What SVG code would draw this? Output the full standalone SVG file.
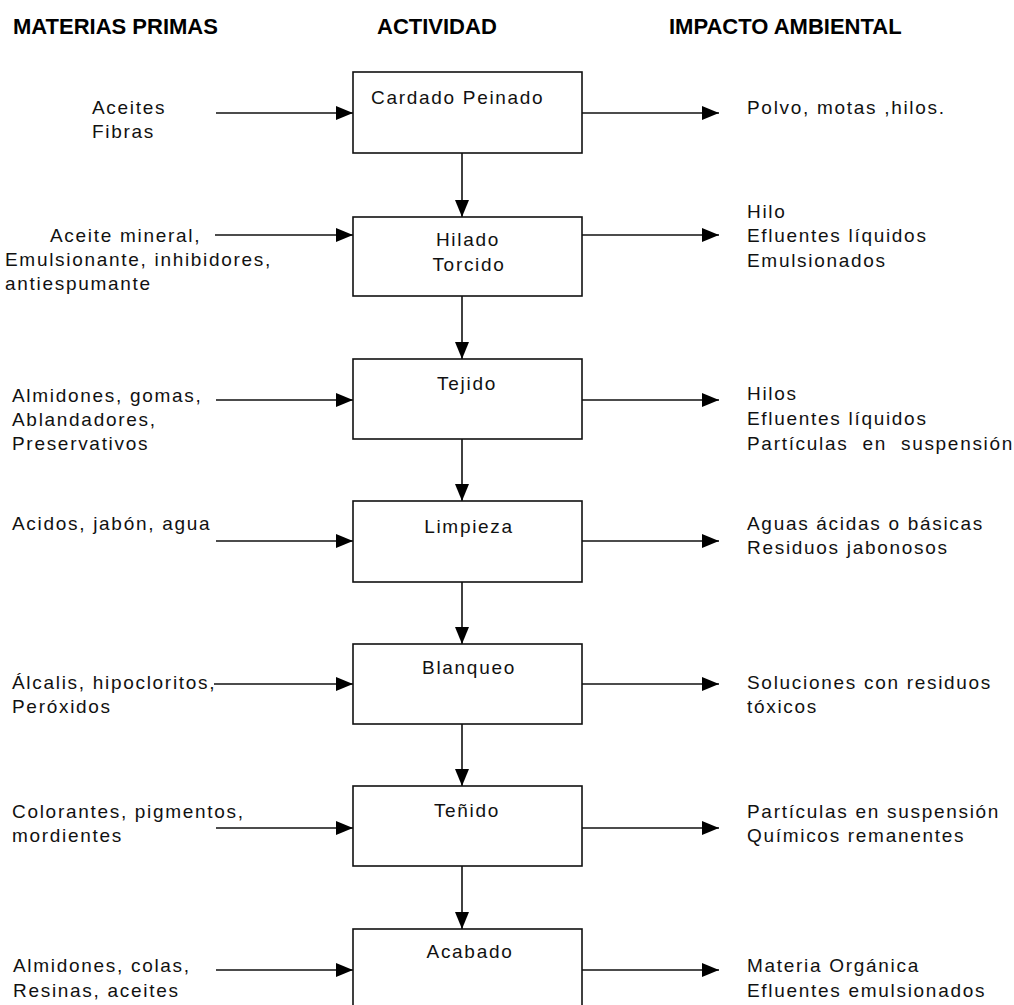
<svg xmlns="http://www.w3.org/2000/svg" width="1014" height="1005" viewBox="0 0 1014 1005">
<style>
.h{font-family:"Liberation Sans",Arial,sans-serif;font-size:22px;font-weight:bold;fill:#000}
.t{font-family:"Liberation Sans",Arial,sans-serif;font-size:19px;letter-spacing:1.7px;fill:#111}
.c{text-anchor:middle}
.box{fill:#fff;stroke:#111;stroke-width:1.6}
.ln{stroke:#111;stroke-width:1.6;fill:none;marker-end:url(#ah)}
</style>
<defs>
<marker id="ah" viewBox="0 0 17 14" refX="17" refY="7" markerWidth="17" markerHeight="14" markerUnits="userSpaceOnUse" orient="auto">
<path d="M0,0 L17,7 L0,14 Z" fill="#000"/>
</marker>
</defs>
<rect width="1014" height="1005" fill="#fff"/>
<g id="headers">
<text class="h" x="13" y="34">MATERIAS PRIMAS</text>
<text class="h" x="377" y="34">ACTIVIDAD</text>
<text class="h" x="669" y="34">IMPACTO AMBIENTAL</text>
</g>
<g id="connectors">
<line class="ln" x1="216" y1="113" x2="353" y2="113"/>
<line class="ln" x1="582" y1="113" x2="719" y2="113"/>
<line class="ln" x1="462" y1="153" x2="462" y2="217"/>
<line class="ln" x1="215" y1="235" x2="353" y2="235"/>
<line class="ln" x1="582" y1="235" x2="719" y2="235"/>
<line class="ln" x1="462" y1="296" x2="462" y2="359"/>
<line class="ln" x1="216" y1="400" x2="353" y2="400"/>
<line class="ln" x1="582" y1="400" x2="719" y2="400"/>
<line class="ln" x1="462" y1="439" x2="462" y2="501"/>
<line class="ln" x1="216" y1="541" x2="353" y2="541"/>
<line class="ln" x1="582" y1="541" x2="719" y2="541"/>
<line class="ln" x1="462" y1="582" x2="462" y2="644"/>
<line class="ln" x1="214" y1="684" x2="353" y2="684"/>
<line class="ln" x1="582" y1="684" x2="719" y2="684"/>
<line class="ln" x1="462" y1="724" x2="462" y2="786"/>
<line class="ln" x1="216" y1="828" x2="353" y2="828"/>
<line class="ln" x1="582" y1="828" x2="719" y2="828"/>
<line class="ln" x1="462" y1="866" x2="462" y2="929"/>
<line class="ln" x1="216" y1="970" x2="353" y2="970"/>
<line class="ln" x1="582" y1="970" x2="719" y2="970"/>
</g>
<g id="cardado">
<rect class="box" x="353" y="72" width="229" height="81"/>
<text class="t" x="371" y="104">Cardado Peinado</text>
</g>
<g id="hilado">
<rect class="box" x="353" y="217" width="229" height="79"/>
<text class="t c" x="468" y="246">Hilado</text>
<text class="t c" x="469" y="271">Torcido</text>
</g>
<g id="tejido">
<rect class="box" x="353" y="359" width="229" height="80"/>
<text class="t c" x="467" y="390">Tejido</text>
</g>
<g id="limpieza">
<rect class="box" x="353" y="501" width="229" height="81"/>
<text class="t c" x="469" y="533">Limpieza</text>
</g>
<g id="blanqueo">
<rect class="box" x="353" y="644" width="229" height="80"/>
<text class="t c" x="469" y="674">Blanqueo</text>
</g>
<g id="tenido">
<rect class="box" x="353" y="786" width="229" height="80"/>
<text class="t c" x="467" y="817">Teñido</text>
</g>
<g id="acabado">
<rect class="box" x="353" y="929" width="229" height="82"/>
<text class="t c" x="470" y="958">Acabado</text>
</g>
<g id="inputs">
<text class="t" x="92" y="114">Aceites</text>
<text class="t" x="92" y="138">Fibras</text>
<text class="t" x="50" y="242">Aceite mineral,</text>
<text class="t" x="5" y="266">Emulsionante, inhibidores,</text>
<text class="t" x="5" y="290">antiespumante</text>
<text class="t" x="12" y="402">Almidones, gomas,</text>
<text class="t" x="12" y="426">Ablandadores,</text>
<text class="t" x="12" y="450">Preservativos</text>
<text class="t" x="12" y="530">Acidos, jabón, agua</text>
<text class="t" x="12" y="689">Álcalis, hipocloritos,</text>
<text class="t" x="12" y="713">Peróxidos</text>
<text class="t" x="12" y="818">Colorantes, pigmentos,</text>
<text class="t" x="12" y="842">mordientes</text>
<text class="t" x="13" y="972">Almidones, colas,</text>
<text class="t" x="13" y="997">Resinas, aceites</text>
</g>
<g id="impacts">
<text class="t" x="747" y="114">Polvo, motas ,hilos.</text>
<text class="t" x="747" y="218">Hilo</text>
<text class="t" x="747" y="242">Efluentes líquidos</text>
<text class="t" x="747" y="267">Emulsionados</text>
<text class="t" x="747" y="400">Hilos</text>
<text class="t" x="747" y="425">Efluentes líquidos</text>
<text class="t" x="747" y="450" xml:space="preserve">Partículas  en  suspensión</text>
<text class="t" x="747" y="530">Aguas ácidas o básicas</text>
<text class="t" x="747" y="554">Residuos jabonosos</text>
<text class="t" x="747" y="689">Soluciones con residuos</text>
<text class="t" x="747" y="713">tóxicos</text>
<text class="t" x="747" y="818">Partículas en suspensión</text>
<text class="t" x="747" y="842">Químicos remanentes</text>
<text class="t" x="747" y="972">Materia Orgánica</text>
<text class="t" x="747" y="997">Efluentes emulsionados</text>
</g>
</svg>
